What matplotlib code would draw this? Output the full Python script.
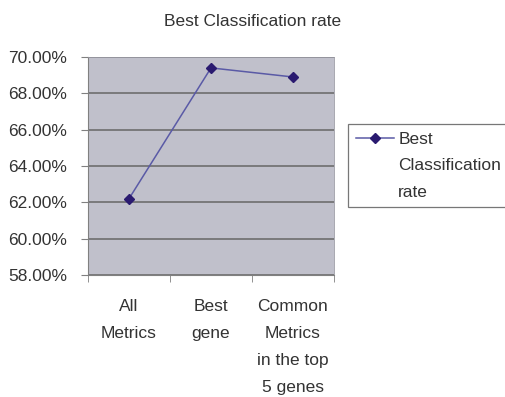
import matplotlib.pyplot as plt
from matplotlib.ticker import FuncFormatter, FixedLocator

categories = ["All\nMetrics", "Best\ngene", "Common\nMetrics\nin the top\n5 genes"]
rates = [62.2, 69.4, 68.9]
series_label = "Best\nClassification\nrate"
y_ticks = [58, 60, 62, 64, 66, 68, 70]

plt.rcParams["font.family"] = ["Liberation Sans", "DejaVu Sans"]
plt.rcParams["font.size"] = 12.5

fig = plt.figure(figsize=(5.05, 3.97), dpi=100)
ax = fig.add_axes([88 / 505, 1 - 275 / 397, 246 / 505, 218 / 397])
ax.set_facecolor("#c0c0cb")

x = list(range(len(categories)))
ax.plot(x, rates, color="#5a5aa6", lw=1.1, marker="D", ms=5.5,
        mfc="#2a1a70", mec="#2a1a70", label=series_label, zorder=3)

ax.set_xlim(-0.5, len(categories) - 0.5)
ax.set_ylim(58, 70)
ax.set_yticks(y_ticks)
ax.yaxis.set_major_formatter(FuncFormatter(lambda v, p: f"{v:.2f}%"))
ax.grid(axis="y", color="#6e6e6e", lw=1.2, zorder=1)

ax.set_xticks(x)
ax.set_xticklabels(categories, linespacing=2.0, va="top")
ax.xaxis.set_minor_locator(FixedLocator([i - 0.5 for i in range(len(categories) + 1)]))
ax.tick_params(axis="x", which="major", length=0, pad=17, colors="#333333")
ax.tick_params(axis="x", which="minor", length=5, color="#808080")
ax.tick_params(axis="y", length=5, color="#808080", pad=10, colors="#333333")
ax.tick_params(axis="y", color="#808080")

for side in ["left", "bottom"]:
    ax.spines[side].set_color("#808080")
for side in ["top", "right"]:
    ax.spines[side].set_color("#9a9aa4")
    ax.spines[side].set_linewidth(0.6)

fig.text(253 / 505, 1 - 21 / 397, "Best Classification rate", ha="center",
         va="center", color="#333333")

leg = fig.legend(loc="upper left", bbox_to_anchor=(348 / 505, 1 - 124 / 397),
                 fancybox=False, edgecolor="#555555", handlelength=2.2,
                 borderpad=0.45, handletextpad=0.25, borderaxespad=0,
                 labelspacing=0.2)
leg.get_frame().set_linewidth(0.9)
for t in leg.get_texts():
    t.set_linespacing(1.95)
    t.set_color("#333333")
# put the marker next to the first line of the label, as in the source chart
for column in leg._legend_handle_box.get_children():
    for entry in column.get_children():
        entry.align = "top"

fig.savefig("out.png", dpi=100)
